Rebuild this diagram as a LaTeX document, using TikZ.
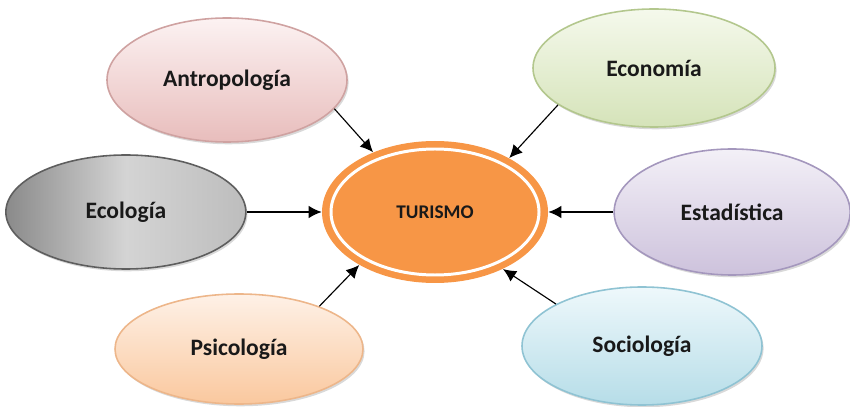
\documentclass[tikz,border=0pt]{standalone}
\usepackage{fontspec}
\setmainfont{Carlito}
\usetikzlibrary{arrows.meta, positioning, shapes.geometric, shadows}

\definecolor{turOrange}{HTML}{F79646}
\definecolor{antroTop}{HTML}{FCF2F2}
\definecolor{antroBot}{HTML}{E8BDBC}
\definecolor{antroLine}{HTML}{CFA2A1}
\definecolor{ecolLeft}{HTML}{8A8A8A}
\definecolor{ecolMid}{HTML}{D4D4D4}
\definecolor{ecolRight}{HTML}{BDBDBD}
\definecolor{ecolLine}{HTML}{5E5E5E}
\definecolor{psicoTop}{HTML}{FEF1E7}
\definecolor{psicoBot}{HTML}{FAC89E}
\definecolor{psicoLine}{HTML}{EDB68A}
\definecolor{econTop}{HTML}{F5F9EC}
\definecolor{econBot}{HTML}{D5E3B9}
\definecolor{econLine}{HTML}{B3C78D}
\definecolor{estadTop}{HTML}{F3F0F7}
\definecolor{estadBot}{HTML}{CDC2DC}
\definecolor{estadLine}{HTML}{A497BD}
\definecolor{socioTop}{HTML}{EEF8FB}
\definecolor{socioBot}{HTML}{B6DDE8}
\definecolor{socioLine}{HTML}{8FC3D3}

\begin{document}
\begin{tikzpicture}[
    every node/.style={font=\bfseries\fontsize{13.4}{16}\selectfont, text=black!90},
    topic/.style={ellipse, draw, line width=0.9pt, minimum width=4.8cm, minimum height=2.4cm, align=center,
        drop shadow={shadow xshift=0.9pt, shadow yshift=-1.3pt, opacity=0.3}},
    center/.style={ellipse, fill=turOrange, minimum width=4.52cm, minimum height=2.84cm, font=\bfseries\fontsize{11}{13}\selectfont},
    arrow/.style={-{Latex[length=2.6mm, width=2.5mm]}, line width=0.65pt}
]
\useasboundingbox (0, 0) rectangle (17, 8.14);

% Central topic
\node[center] (tur) at (8.70, 3.90) {TURISMO};
\draw[white, line width=1.7pt] (tur.center) ellipse [x radius=2.08cm, y radius=1.26cm];

% Left side
\node[topic, top color=antroTop, bottom color=antroBot, draw=antroLine, minimum height=2.48cm] (antro) at (4.54, 6.54) {Antropología};
\node[topic, left color=ecolLeft, right color=ecolRight, middle color=ecolMid, draw=ecolLine, minimum height=2.28cm, left=1.5cm of tur] (ecol) {Ecología};
\node[topic, top color=psicoTop, bottom color=psicoBot, draw=psicoLine, minimum width=4.96cm, minimum height=2.2cm] (psico) at (4.78, 1.16) {Psicología};

% Right side
\node[topic, top color=econTop, bottom color=econBot, draw=econLine, minimum width=4.84cm, minimum height=2.36cm] (econ) at (13.08, 6.78) {Economía};
\node[topic, top color=estadTop, bottom color=estadBot, draw=estadLine, minimum width=4.72cm, minimum height=2.52cm, right=1.3cm of tur] (estad) {Estadística};
\node[topic, top color=socioTop, bottom color=socioBot, draw=socioLine, minimum height=2.36cm] (socio) at (12.84, 1.22) {Sociología};

% Arrows into TURISMO
\draw[arrow] (antro.-15) -- (tur.136);
\draw[arrow] (ecol) -- (tur);
\draw[arrow] (psico.28) -- (tur.-145);
\draw[arrow] (econ.201) -- (tur.36);
\draw[arrow] (estad) -- (tur);
\draw[arrow] (socio.154) -- (tur.-40);

\end{tikzpicture}
\end{document}
